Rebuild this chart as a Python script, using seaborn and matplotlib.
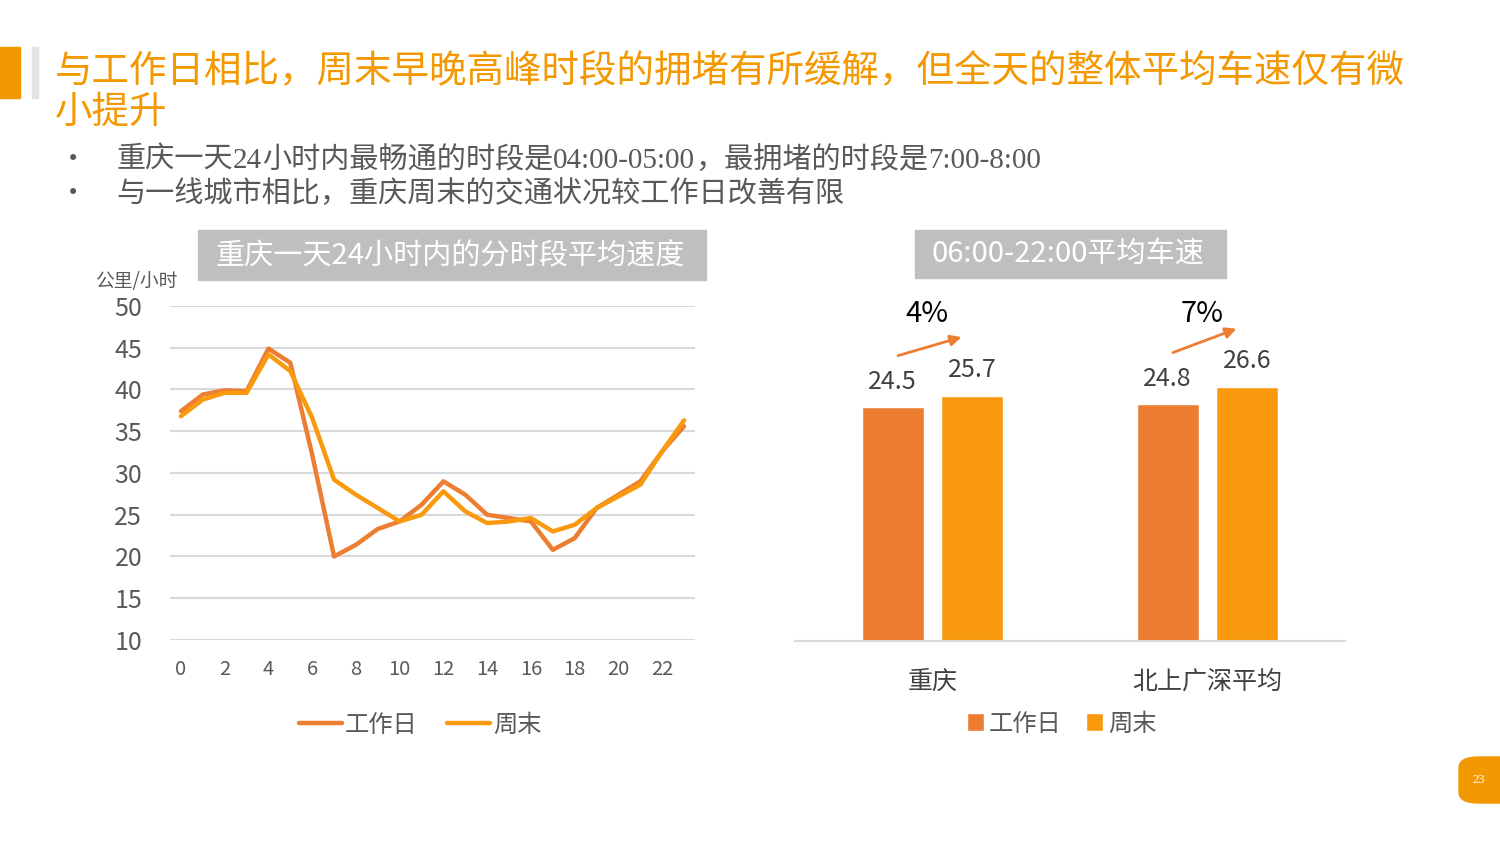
import matplotlib
matplotlib.use('Agg')
import matplotlib.pyplot as plt
from matplotlib.patches import Rectangle, FancyBboxPatch
import pandas as pd
import seaborn as sns

# hourly average speed (km/h)
hours = list(range(24))
workday = [37.4, 39.4, 39.9, 39.8, 44.9, 43.2, 32.2, 20.0, 21.4, 23.3, 24.2, 26.2,
           29.0, 27.4, 25.0, 24.6, 24.2, 20.8, 22.2, 25.8, 27.4, 29.0, 32.6, 35.6]
weekend = [36.8, 38.8, 39.6, 39.6, 44.2, 42.2, 36.6, 29.2, 27.4, 25.8, 24.2, 25.0,
           27.8, 25.4, 24.0, 24.2, 24.6, 23.0, 23.8, 25.8, 27.2, 28.6, 32.6, 36.3]
series_names = ['工作日', '周末']

# 06:00-22:00 average speed
cities = ['重庆', '北上广深平均']
bar_workday = [24.5, 24.8]
bar_weekend = [25.7, 26.6]
growth = ['4%', '7%']

c_work = '#ED7D31'
c_weekend = '#F99A0E'
c_title = '#F39800'
c_text = '#595959'

sns.set_theme(style='white')
plt.rcParams['font.family'] = ['Noto Sans CJK SC', 'DejaVu Sans']

W, H = 1500, 844
fig = plt.figure(figsize=(15, 8.44), dpi=100)


def fx(px):
    return px / W


def fy(py):
    return 1 - py / H


# ---- page decorations ----
fig.add_artist(Rectangle((0, fy(98)), fx(20), 51 / H, color=c_title, transform=fig.transFigure))
fig.add_artist(Rectangle((fx(32), fy(98)), fx(6), 51 / H, color='#E3E3E3', transform=fig.transFigure))
fig.text(fx(55), fy(72), '与工作日相比，周末早晚高峰时段的拥堵有所缓解，但全天的整体平均车速仅有微',
         fontsize=27, color=c_title, va='center', ha='left')
fig.text(fx(55), fy(112), '小提升', fontsize=27, color=c_title, va='center', ha='left')

sans = ['Noto Sans CJK SC', 'DejaVu Sans']
serif = ['Liberation Serif', 'DejaVu Serif']
bullet1 = [('重庆一天', sans), ('24', serif), ('小时内最畅通的时段是', sans),
           ('04:00-05:00', serif), ('，最拥堵的时段是', sans), ('7:00-8:00', serif)]
bullet2 = [('与一线城市相比，重庆周末的交通状况较工作日改善有限', sans)]


def text_runs(pieces, x, y, size, color):
    r = fig.canvas.get_renderer()
    for txt, fam in pieces:
        t = fig.text(x, y, txt, fontsize=size, color=color, family=fam,
                     va='baseline', ha='left')
        x = t.get_window_extent(renderer=r).x1 / fig.bbox.width


for i, pieces in enumerate([bullet1, bullet2]):
    yb = 168 + i * 34
    fig.text(fx(73), fy(yb - 9), '•', fontsize=15, color=c_text, va='center', ha='center',
             family=['DejaVu Sans'])
    text_runs(pieces, fx(116), fy(yb), 21, c_text)

# chart title boxes
fig.add_artist(Rectangle((fx(198), fy(280)), fx(508), 50 / H, color='#BFBFBF',
                         transform=fig.transFigure))
fig.text(fx(450), fy(255), '重庆一天24小时内的分时段平均速度', fontsize=21, color='white',
         va='center', ha='center')
fig.add_artist(Rectangle((fx(915), fy(278)), fx(311), 48 / H, color='#BFBFBF',
                         transform=fig.transFigure))
fig.text(fx(1068), fy(254), '06:00-22:00平均车速', fontsize=21, color='white',
         va='center', ha='center')

# page number
fig.add_artist(FancyBboxPatch((fx(1459), fy(803)), fx(60), 46 / H,
                              boxstyle='round,pad=0,rounding_size=0.013',
                              color=c_title, transform=fig.transFigure))
fig.text(fx(1479), fy(780), '23', fontsize=9, color='white', va='center', ha='center',
         family=serif)

# ---- line chart ----
df_line = pd.DataFrame({
    'hour': hours * 2,
    'speed': workday + weekend,
    'type': [series_names[0]] * 24 + [series_names[1]] * 24,
})
ax1 = fig.add_axes([fx(170), fy(640), fx(525), 334 / H])
sns.lineplot(data=df_line, x='hour', y='speed', hue='type',
             palette=[c_work, c_weekend], linewidth=3.2, ax=ax1)
ax1.set_ylim(10, 50)
ax1.set_xlim(-0.5, 23.5)
ax1.set_yticks(range(10, 51, 5))
ax1.set_xticks(range(0, 23, 2))
ax1.yaxis.grid(True, color='#D9D9D9', linewidth=1.5)
ax1.set_axisbelow(True)
for s in ax1.spines.values():
    s.set_visible(False)
ax1.tick_params(axis='y', length=0, pad=20, labelsize=18, labelcolor=c_text)
ax1.tick_params(axis='x', length=0, pad=14, labelsize=14.5, labelcolor=c_text)
ax1.set_xlabel('')
ax1.set_ylabel('')
fig.text(fx(136), fy(282), '公里/小时', fontsize=13.5, color=c_text, va='center', ha='center')
sns.move_legend(ax1, 'center', bbox_to_anchor=(0.476, -0.254), ncol=2, frameon=False,
                title=None, fontsize=17.5, handlelength=1.8, columnspacing=1.2,
                handletextpad=0.1)
for t in ax1.get_legend().get_texts():
    t.set_color(c_text)

# ---- bar chart ----
df_bar = pd.DataFrame({
    'city': cities * 2,
    'speed': bar_workday + bar_weekend,
    'type': [series_names[0]] * 2 + [series_names[1]] * 2,
})
ax2 = fig.add_axes([fx(795), fy(641), fx(550), 36 * 9.55 / H])
sns.barplot(data=df_bar, x='city', y='speed', hue='type', palette=[c_work, c_weekend],
            width=0.58, gap=0.22, saturation=1, ax=ax2)
ax2.set_ylim(0, 36)
ax2.set_xlim(-0.5, 1.5)
for s in ['top', 'left', 'right']:
    ax2.spines[s].set_visible(False)
ax2.spines['bottom'].set_color('#D9D9D9')
ax2.spines['bottom'].set_linewidth(1.5)
ax2.set_yticks([])
ax2.set_xlabel('')
ax2.set_ylabel('')
ax2.tick_params(axis='x', length=0, pad=20, labelsize=18, labelcolor='#404040')
for cont in ax2.containers:
    ax2.bar_label(cont, fmt='%.1f', padding=9, fontsize=18, color='#404040')

for i in range(len(cities)):
    xw = i - 0.145
    xe = i + 0.145
    ax2.annotate('', xy=(xe - 0.03, bar_weekend[i] + 6.2), xytext=(xw + 0.01, bar_workday[i] + 5.3),
                 arrowprops=dict(arrowstyle='-|>', color=c_work, lw=2, mutation_scale=16))
    ax2.text(i - 0.02, 34.2, growth[i], fontsize=21, color='black', ha='center', va='center')

sns.move_legend(ax2, 'center', bbox_to_anchor=(0.485, -0.24), ncol=2, frameon=False,
                title=None, fontsize=17.5, handlelength=0.7, handleheight=0.7,
                columnspacing=1.0, handletextpad=0.2)
for t in ax2.get_legend().get_texts():
    t.set_color(c_text)

fig.savefig('out.png', dpi=100, facecolor='white')
